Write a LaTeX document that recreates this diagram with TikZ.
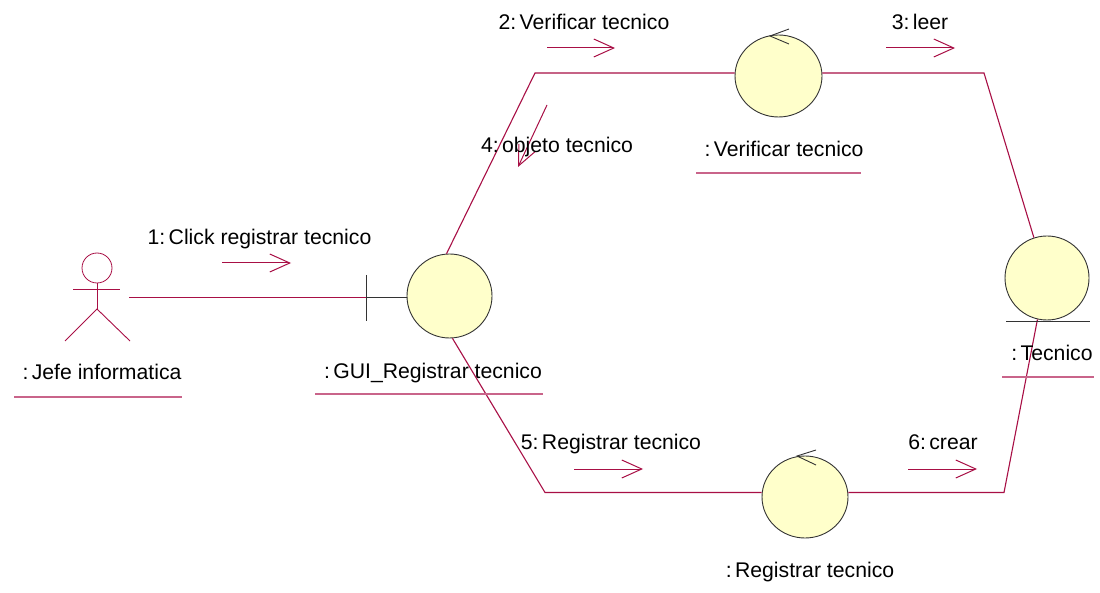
\documentclass[tikz,border=0pt]{standalone}
\usepackage{fontspec}
\setmainfont{Liberation Sans}
\usetikzlibrary{arrows.meta,shapes.geometric}
\definecolor{rose}{HTML}{A80F45}
\definecolor{roselight}{HTML}{C9648A}
\definecolor{ballfill}{HTML}{FFFFCB}
\definecolor{ink}{HTML}{333333}
\newcommand{\cl}{:\kern-2.5pt\ }
\tikzset{
  x=1pt,y=-1pt,
  ball/.style 2 args={ellipse,draw=ink,fill=ballfill,line width=0.9pt,inner sep=0pt,minimum width=#1,minimum height=#2},
  link/.style={draw=rose,line width=1.1pt},
  msg/.style={draw=rose,line width=1pt,-{Straight Barb[length=20pt,width=18pt,line width=1pt]}},
  lab/.style={inner sep=0pt,text=black,text height=15pt,text depth=4pt,font=\fontsize{21.2}{24}\selectfont},
  under/.style={draw=roselight,line width=1.2pt},
  actorline/.style={draw=rose,line width=0.9pt},
  mark line/.style={draw=ink,line width=0.9pt}
}
\begin{document}
\begin{tikzpicture}
\useasboundingbox (0,0) rectangle (1100,593);
% bends
\coordinate (b1) at (535,73);
\coordinate (b2) at (984,73);
\coordinate (b3) at (545,492.5);
\coordinate (b4) at (1004,492.5);
% balls
\node[ball={85pt}{84pt}] (gui) at (449.5,296) {};
\node[ball={87pt}{82pt}] (ver) at (778.5,76) {};
\node[ball={84pt}{84pt}] (tec) at (1047,278) {};
\node[ball={86pt}{82pt}] (reg) at (805,497) {};
\draw[link] (gui.94) -- (b1) -- (ver.west |- b1);
\draw[link] (ver.east |- b2) -- (b2) -- (tec.108);
\draw[link] (gui.-86) -- (b3) -- (reg.west |- b3);
\draw[link] (reg.east |- b4) -- (b4) -- (tec.-103);
% actor
\coordinate (ahead) at (97,268);
\node[circle,draw=rose,line width=0.8pt,minimum size=30pt,inner sep=0pt] (head) at (ahead) {};
\coordinate (aneck) at (97,309);
\coordinate (armL) at (73,289);
\coordinate (armR) at (120,289);
\coordinate (legL) at (65,341);
\coordinate (legR) at (130,341);
\draw[actorline] (head.south) -- (aneck);
\draw[actorline] (armL) -- (armR);
\draw[actorline] (legL) -- (aneck) -- (legR);
% actor to boundary
\coordinate (astart) at (129,297.5);
\coordinate (tick) at (366,297.5);
\coordinate (tickT) at (366,275);
\coordinate (tickB) at (366,321);
\draw[link] (astart) -- (tick);
\draw[mark line] (tick) -- (gui.west |- tick);
\draw[mark line] (tickT) -- (tickB);
% control marks
\coordinate (c1) at (770,36); \coordinate (c1a) at (789,29); \coordinate (c1b) at (789,44);
\draw[mark line] (c1a) -- (c1) -- (c1b);
\coordinate (c2) at (797,456); \coordinate (c2a) at (816,450); \coordinate (c2b) at (816,465);
\draw[mark line] (c2a) -- (c2) -- (c2b);
% entity line
\coordinate (e1) at (1006,321); \coordinate (e2) at (1090,321);
\draw[mark line] (e1) -- (e2);
% underlines
\coordinate (u1a) at (14,397); \coordinate (u1b) at (182,397); \draw[under] (u1a) -- (u1b);
\coordinate (u2a) at (315,394); \coordinate (u2b) at (543,394); \draw[under] (u2a) -- (u2b);
\coordinate (u3a) at (696,173); \coordinate (u3b) at (861,173); \draw[under] (u3a) -- (u3b);
\coordinate (u4a) at (1002,377); \coordinate (u4b) at (1094,377); \draw[under] (u4a) -- (u4b);
% messages
\coordinate (m1a) at (222,263); \coordinate (m1b) at (291,263); \draw[msg] (m1a) -- (m1b);
\coordinate (m2a) at (547,48); \coordinate (m2b) at (615,48); \draw[msg] (m2a) -- (m2b);
\coordinate (m3a) at (886,48); \coordinate (m3b) at (955,48); \draw[msg] (m3a) -- (m3b);
\coordinate (m4a) at (547,105); \coordinate (m4b) at (518,167); \draw[msg] (m4a) -- (m4b);
\coordinate (m5a) at (574,469); \coordinate (m5b) at (643,469); \draw[msg] (m5a) -- (m5b);
\coordinate (m6a) at (908,469); \coordinate (m6b) at (977,469); \draw[msg] (m6a) -- (m6b);
% labels
\node[lab] (t1) at (259.5,239.5) {1\cl Click registrar tecnico};
\node[lab] (t2) at (584,24.5) {2\cl Verificar tecnico};
\node[lab] (t3) at (920,24.5) {3\cl leer};
\node[lab] (t4) at (557,147.5) {4\cl objeto tecnico};
\node[lab] (t5) at (611,443.5) {5\cl Registrar tecnico};
\node[lab] (t6) at (943,443.5) {6\cl crear};
\node[lab] (n1) at (102,373.5) {\cl Jefe informatica};
\node[lab] (n2) at (433,372.5) {\cl GUI\_Registrar tecnico};
\node[lab] (n3) at (784,151.5) {\cl Verificar tecnico};
\node[lab] (n4) at (1052,354.5) {\cl Tecnico};
\node[lab] (n5) at (810,571.5) {\cl Registrar tecnico};
\end{tikzpicture}
\end{document}
